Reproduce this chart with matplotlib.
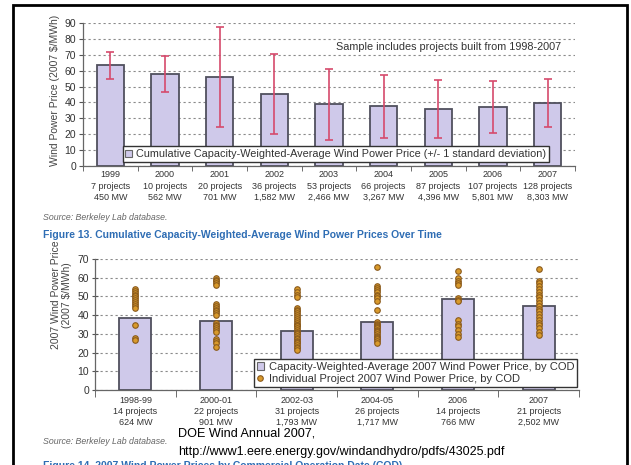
import matplotlib
matplotlib.use("Agg")
import matplotlib.pyplot as plt
from matplotlib.patches import Patch, Rectangle
from matplotlib.lines import Line2D

plt.rcParams['font.family'] = ['Liberation Sans', 'DejaVu Sans']

# ---------------- data: Figure 13 ----------------
top_years = ['1999', '2000', '2001', '2002', '2003', '2004', '2005', '2006', '2007']
top_projects = [7, 10, 20, 36, 53, 66, 87, 107, 128]
top_mw = ['450', '562', '701', '1,582', '2,466', '3,267', '4,396', '5,801', '8,303']
top_price = [63.3, 57.8, 56.0, 45.3, 38.8, 37.5, 35.7, 37.1, 39.6]
top_sd = [8.6, 11.4, 31.3, 25.2, 22.2, 19.8, 18.2, 16.4, 15.2]

# ---------------- data: Figure 14 ----------------
cod = ['1998-99', '2000-01', '2002-03', '2004-05', '2006', '2007']
cod_projects = [14, 22, 31, 26, 14, 21]
cod_mw = ['624', '901', '1,793', '1,717', '766', '2,502']
cod_avg = [38.3, 36.9, 31.5, 36.5, 48.4, 44.9]
proj_9899 = [54, 53, 52, 51, 50, 49, 48, 47, 46, 45, 44, 34.5, 28, 26.5]
proj_0001 = [60, 59, 58, 57, 56, 46, 45, 44, 43, 42, 41, 40, 36, 35, 34, 33, 32, 31,
             27, 26, 25, 23]
proj_0203 = [54, 52.5, 51, 49.5, 44, 43, 42, 41, 40, 39, 38, 37, 36, 35, 34.5, 34, 33,
             32, 31, 30.5, 30, 29, 28, 27, 26, 25.5, 25, 24, 23, 22.5, 21.5]
proj_0405 = [65.5, 55.5, 54.5, 53.5, 52.5, 51, 50, 49, 47.5, 43, 36.5, 35.5, 35, 34,
             33.5, 33, 32, 31.5, 31, 30, 29, 28.5, 28, 27, 26, 25]
proj_2006 = [63.5, 60, 58.5, 57, 56, 49, 48, 47.5, 37.5, 35.5, 34, 32, 30, 28.5]
proj_2007 = [64.5, 58.5, 57, 55.5, 54, 52.5, 51, 49.5, 48, 46.5, 45, 43.5, 42, 40.5,
             39, 37.5, 36, 34.5, 33, 31, 29.5]
projects = [proj_9899, proj_0001, proj_0203, proj_0405, proj_2006, proj_2007]

W, H = 631, 465
BAR_FILL = '#cfc9ea'
BAR_EDGE = '#50505e'
GRID = '#8a8a8a'
TXT = '#333333'


def fx(x):
    return x / W


def fy(y):
    return 1 - y / H


fig = plt.figure(figsize=(W / 100, H / 100), dpi=100)

# ---------------- top chart ----------------
ax1 = fig.add_axes([fx(83), fy(166), 492 / W, 143 / H])
x1 = list(range(len(top_years)))
ax1.bar(x1, top_price, width=0.5, color=BAR_FILL, edgecolor=BAR_EDGE, linewidth=1.3, zorder=2)
ax1.errorbar(x1, top_price, yerr=top_sd, fmt='none', ecolor='#d64a6c', elinewidth=1.2,
             capsize=2.6, capthick=1.2, zorder=3)
ax1.set_xlim(-0.5, len(top_years) - 0.5)
ax1.set_ylim(0, 90)
ax1.set_yticks(range(0, 91, 10))
ax1.set_xticks(x1)
ax1.set_xticklabels([f"{y}\n{p} projects\n{m} MW" for y, p, m in zip(top_years, top_projects, top_mw)],
                    fontsize=6.5, linespacing=1.35, color=TXT)
ax1.set_xticks([i - 0.5 for i in range(len(top_years) + 1)], minor=True)
ax1.tick_params(axis='x', which='major', length=0, pad=3)
ax1.tick_params(axis='x', which='minor', length=3.5, direction='out', color='#555')
ax1.tick_params(axis='y', length=3, direction='out', color='#555', labelsize=7.5,
                labelcolor=TXT, pad=2)
ax1.grid(axis='y', color=GRID, linestyle=(0, (2, 2.5)), linewidth=0.8)
ax1.set_axisbelow(True)
for s in ['top', 'right']:
    ax1.spines[s].set_visible(False)
for s in ['left', 'bottom']:
    ax1.spines[s].set_color('#666')
    ax1.spines[s].set_linewidth(0.9)
ax1.text(6.18, 75, "Sample includes projects built from 1998-2007", ha='center', va='center',
         fontsize=7.8, color=TXT)
leg1 = ax1.legend(handles=[Patch(facecolor=BAR_FILL, edgecolor='#666', linewidth=0.8,
                                 label="Cumulative Capacity-Weighted-Average Wind Power Price (+/- 1 standard deviation)")],
                  loc='lower center', bbox_to_anchor=(0.514, 0.03), frameon=True, fancybox=False,
                  fontsize=7.8, handlelength=0.6, handleheight=0.6, handletextpad=0.4,
                  borderpad=0.25, borderaxespad=0)
leg1.get_frame().set_edgecolor('#333')
leg1.get_frame().set_linewidth(1.0)
leg1.get_frame().set_alpha(1)
leg1.set_zorder(5)
for t in leg1.get_texts():
    t.set_color(TXT)

# ---------------- bottom chart ----------------
ax2 = fig.add_axes([fx(95), fy(390), 484 / W, 131 / H])
x2 = list(range(len(cod)))
ax2.bar(x2, cod_avg, width=0.4, color=BAR_FILL, edgecolor=BAR_EDGE, linewidth=1.3, zorder=2)
for i, vals in enumerate(projects):
    ax2.scatter([i] * len(vals), vals, s=16, c='#d99a2b', edgecolors='#8a5a1c',
                linewidths=0.8, zorder=3)
ax2.set_xlim(-0.5, len(cod) - 0.5)
ax2.set_ylim(0, 70)
ax2.set_yticks(range(0, 71, 10))
ax2.set_xticks(x2)
ax2.set_xticklabels([f"{c}\n{p} projects\n{m} MW" for c, p, m in zip(cod, cod_projects, cod_mw)],
                    fontsize=6.5, linespacing=1.3, color=TXT)
ax2.set_xticks([i - 0.5 for i in range(len(cod) + 1)], minor=True)
ax2.tick_params(axis='x', which='major', length=0, pad=4)
ax2.tick_params(axis='x', which='minor', length=5, direction='out', color='#555')
ax2.tick_params(axis='y', length=4.5, direction='inout', color='#555', labelsize=7.5,
                labelcolor=TXT, pad=2)
ax2.grid(axis='y', color=GRID, linestyle=(0, (2, 2.5)), linewidth=0.8)
ax2.set_axisbelow(True)
for s in ['top', 'right']:
    ax2.spines[s].set_visible(False)
for s in ['left', 'bottom']:
    ax2.spines[s].set_color('#666')
    ax2.spines[s].set_linewidth(0.9)
leg2 = ax2.legend(handles=[Patch(facecolor=BAR_FILL, edgecolor='#666', linewidth=0.8,
                                 label="Capacity-Weighted-Average 2007 Wind Power Price, by COD"),
                           Line2D([], [], linestyle='none', marker='o', markersize=4,
                                  markerfacecolor='#d99a2b', markeredgecolor='#8a5a1c',
                                  markeredgewidth=0.8,
                                  label="Individual Project 2007 Wind Power Price, by COD")],
                  loc='lower right', bbox_to_anchor=(0.996, 0.023), frameon=True, fancybox=False,
                  fontsize=8.0, handlelength=0.7, handleheight=0.7, handletextpad=0.4,
                  borderpad=0.25, labelspacing=0.2, borderaxespad=0)
leg2.get_frame().set_edgecolor('#333')
leg2.get_frame().set_linewidth(1.0)
leg2.get_frame().set_alpha(1)
leg2.set_zorder(5)
for t in leg2.get_texts():
    t.set_color(TXT)

# ---------------- labels & page text ----------------
fig.text(fx(55), fy(90), "Wind Power Price (2007 $/MWh)", rotation=90, ha='center', va='center',
         fontsize=7.5, color='#444')
fig.text(fx(61.5), fy(295), "2007 Wind Power Price\n(2007 $/MWh)", rotation=90, ha='center',
         va='center', fontsize=7.5, color='#444', linespacing=1.2)

fig.text(fx(43), fy(218), "Source: Berkeley Lab database.", style='italic', color='#666',
         fontsize=6.3, va='center')
fig.text(fx(43), fy(235), "Figure 13. Cumulative Capacity-Weighted-Average Wind Power Prices Over Time",
         fontweight='bold', color='#2e6db4', fontsize=7.5, va='center')
fig.text(fx(43), fy(441), "Source: Berkeley Lab database.", style='italic', color='#666',
         fontsize=6.3, va='center')
fig.text(fx(178), fy(433), "DOE Wind Annual 2007,", fontsize=9.1, va='center', color='black')
fig.text(fx(178), fy(451.5), "http://www1.eere.energy.gov/windandhydro/pdfs/43025.pdf",
         fontsize=9.0, va='center', color='black')
fig.text(fx(43), fy(460.5), "Figure 14. 2007 Wind Power Prices by Commercial Operation Date (COD)",
         fontweight='bold', color='#2e6db4', fontsize=7.5, va='top')

fig.add_artist(Rectangle((fx(13.3), -0.1), (626.7 - 13.3) / W, 1 - 5.3 / H + 0.1,
                         transform=fig.transFigure, fill=False, edgecolor='black',
                         linewidth=2.0))

fig.savefig("out.png", dpi=100)
